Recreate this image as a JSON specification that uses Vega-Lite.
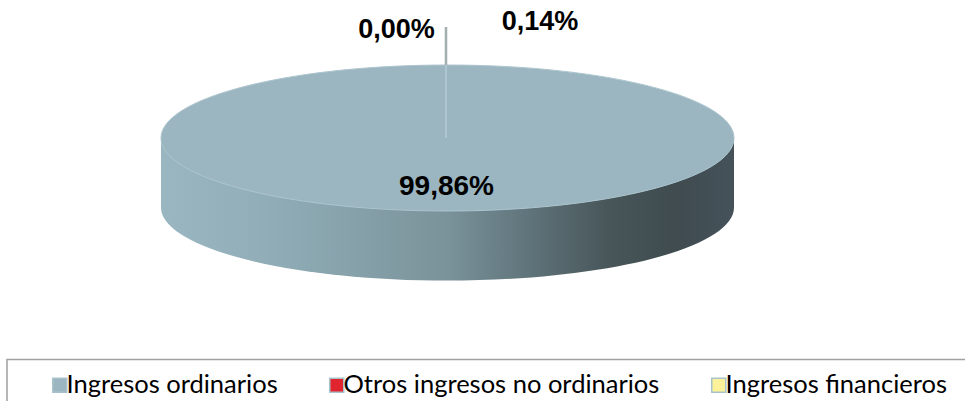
{
  "$schema": "https://vega.github.io/schema/vega-lite/v6.json",
  "width": 965,
  "height": 401,
  "autosize": "none",
  "padding": 0,
  "background": "#ffffff",
  "config": {
    "view": {"stroke": null},
    "locale": {"number": {"decimal": ",", "thousands": ".", "grouping": [3], "currency": ["", " €"]}}
  },
  "data": {
    "values": [
      {"categoria": "Ingresos ordinarios", "valor": 0.9986},
      {"categoria": "Otros ingresos no ordinarios", "valor": 0.0014},
      {"categoria": "Ingresos financieros", "valor": 0.0}
    ]
  },
  "layer": [
    {
      "transform": [{"filter": "datum.categoria === 'Ingresos ordinarios'"}],
      "mark": {
        "type": "point",
        "filled": true,
        "opacity": 1,
        "size": 360000,
        "strokeWidth": 0,
        "shape": "M -0.955 0 L -0.955 0.232 A 0.955 0.2433 0 0 0 0.955 0.232 L 0.955 0 Z",
        "fill": {
          "gradient": "linear", "x1": 0, "y1": 0, "x2": 1, "y2": 0,
          "stops": [
            {"offset": 0, "color": "#9ab6c0"},
            {"offset": 0.15, "color": "#93b0ba"},
            {"offset": 0.35, "color": "#85a0a9"},
            {"offset": 0.5, "color": "#7a929a"},
            {"offset": 0.65, "color": "#5e7279"},
            {"offset": 0.78, "color": "#485659"},
            {"offset": 0.9, "color": "#3f4b4f"},
            {"offset": 1, "color": "#45525a"}
          ]
        }
      },
      "encoding": {
        "x": {"datum": 0, "type": "quantitative", "scale": {"domain": [-447.5, 517.5], "nice": false, "zero": false}, "axis": null},
        "y": {"datum": 0, "type": "quantitative", "scale": {"domain": [-263, 138], "nice": false, "zero": false}, "axis": null}
      }
    },
    {
      "transform": [{"filter": "datum.categoria === 'Ingresos ordinarios'"}],
      "mark": {
        "type": "point",
        "filled": true,
        "opacity": 1,
        "size": 360000,
        "stroke": "#adc5ce",
        "strokeWidth": 1,
        "shape": "M -0.955 0 A 0.955 0.2433 0 1 1 0.955 0 A 0.955 0.2433 0 1 1 -0.955 0 Z"
      },
      "encoding": {
        "x": {"datum": 0, "type": "quantitative"},
        "y": {"datum": 0, "type": "quantitative"},
        "color": {
          "field": "categoria",
          "type": "nominal",
          "scale": {
            "domain": ["Ingresos ordinarios", "Otros ingresos no ordinarios", "Ingresos financieros"],
            "range": ["#9bb6c1", "#e0252e", "#fdf29a"]
          },
          "legend": {
            "title": null,
            "orient": "none",
            "legendX": 47,
            "legendY": 372,
            "direction": "horizontal",
            "padding": 0,
            "symbolType": "square",
            "symbolSize": 196,
            "symbolStrokeColor": "#a9c3cc",
            "symbolStrokeWidth": 1.5,
            "labelFont": "Lato",
            "labelFontSize": 25.5,
            "labelColor": "#000000",
            "labelOffset": -6,
            "labelLimit": 400,
            "columnPadding": 46
          }
        }
      }
    },
    {
      "transform": [{"filter": "datum.categoria === 'Ingresos financieros'"}],
      "mark": {"type": "rule", "color": "#b4cbd4", "strokeWidth": 1.5},
      "encoding": {
        "x": {"datum": -1.5, "type": "quantitative"},
        "y": {"datum": 73, "type": "quantitative"},
        "y2": {"datum": 0}
      }
    },
    {
      "transform": [{"filter": "datum.categoria === 'Ingresos financieros'"}],
      "mark": {"type": "rule", "color": "#a3aeae", "strokeWidth": 2.5},
      "encoding": {
        "x": {"datum": -1.5, "type": "quantitative"},
        "y": {"datum": 111, "type": "quantitative"},
        "y2": {"datum": 73}
      }
    },
    {
      "transform": [{"filter": "datum.categoria === 'Ingresos ordinarios'"}],
      "mark": {"type": "text", "font": "Liberation Sans", "fontWeight": "bold", "fontSize": 28, "color": "#000000", "align": "center", "baseline": "middle"},
      "encoding": {
        "x": {"datum": -1, "type": "quantitative"},
        "y": {"datum": -49, "type": "quantitative"},
        "text": {"field": "valor", "type": "quantitative", "format": ".2%"}
      }
    },
    {
      "transform": [{"filter": "datum.categoria === 'Ingresos financieros'"}],
      "mark": {"type": "text", "font": "Liberation Sans", "fontWeight": "bold", "fontSize": 27, "color": "#000000", "align": "center", "baseline": "middle"},
      "encoding": {
        "x": {"datum": -51, "type": "quantitative"},
        "y": {"datum": 108, "type": "quantitative"},
        "text": {"field": "valor", "type": "quantitative", "format": ".2%"}
      }
    },
    {
      "transform": [{"filter": "datum.categoria === 'Otros ingresos no ordinarios'"}],
      "mark": {"type": "text", "font": "Liberation Sans", "fontWeight": "bold", "fontSize": 27, "color": "#000000", "align": "center", "baseline": "middle"},
      "encoding": {
        "x": {"datum": 92.5, "type": "quantitative"},
        "y": {"datum": 116, "type": "quantitative"},
        "text": {"field": "valor", "type": "quantitative", "format": ".2%"}
      }
    },
    {
      "transform": [{"filter": "datum.categoria === 'Ingresos ordinarios'"}],
      "mark": {"type": "rect", "fill": null, "fillOpacity": 0, "stroke": "#a0a0a0", "strokeWidth": 1.5},
      "encoding": {
        "x": {"datum": -440.5, "type": "quantitative"},
        "x2": {"datum": 519},
        "y": {"datum": -221.5, "type": "quantitative"},
        "y2": {"datum": -268}
      }
    }
  ]
}
